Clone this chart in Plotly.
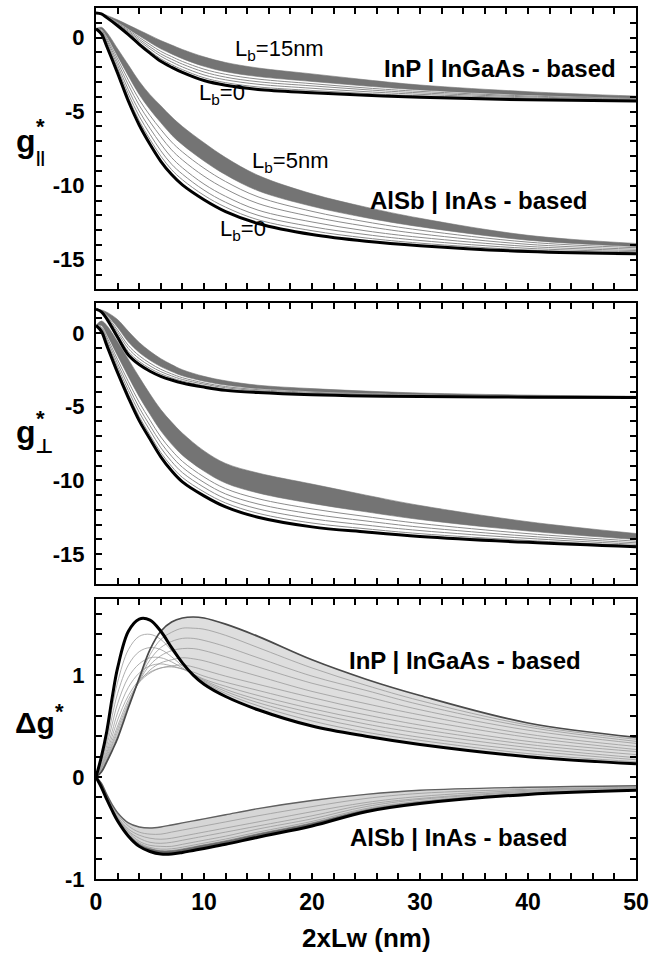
import plotly.graph_objects as go
from plotly.subplots import make_subplots

# ---------------- data ----------------
X12 = [0, 0.5, 1, 2, 3, 4, 5, 6, 7, 8, 10, 12, 15, 20, 25, 30, 40, 50]
X3 = [0, 0.5, 1, 1.5, 2, 3, 4, 5, 6, 7, 8, 9, 10, 12, 15, 20, 25, 30, 40, 50]

x_tickvals = [0, 2, 4, 6, 8, 10, 12, 14, 16, 18, 20, 22, 24, 26, 28, 30, 32, 34, 36, 38, 40, 42, 44, 46, 48, 50]
x_ticktext = ["0", "", "", "", "", "10", "", "", "", "", "20", "", "", "", "", "30", "", "", "", "", "40", "", "", "", "", "50"]
g_tickvals = [-17, -16, -15, -14, -13, -12, -11, -10, -9, -8, -7, -6, -5, -4, -3, -2, -1, 0, 1, 2]
g_ticktext = ["", "", "-15", "", "", "", "", "-10", "", "", "", "", "-5", "", "", "", "", "0", "", ""]
d_tickvals = [-1, -0.8, -0.6, -0.4, -0.2, 0, 0.2, 0.4, 0.6, 0.8, 1, 1.2, 1.4, 1.6]
d_ticktext = ["-1", "", "", "", "", "0", "", "", "", "", "1", "", "", ""]

# Panel 1: g_parallel
p1_inp_lb0 = [1.67, 1.6, 1.35, 0.8, 0.2, -0.45, -1.05, -1.6, -2.0, -2.35, -2.9, -3.22, -3.5, -3.72, -3.9, -4.03, -4.2, -4.28]
p1_inp_lb15 = [1.67, 1.62, 1.5, 1.2, 0.85, 0.5, 0.15, -0.2, -0.5, -0.8, -1.3, -1.68, -2.05, -2.45, -2.85, -3.2, -3.65, -3.95]
p1_inp_band = [1.67, 1.61, 1.44, 1.04, 0.59, 0.12, -0.33, -0.76, -1.1, -1.42, -1.94, -2.3, -2.63, -2.96, -3.27, -3.53, -3.87, -4.08]
p1_inp_mid = [
    [1.67, 1.61, 1.42, 0.99, 0.51, 0.01, -0.47, -0.93, -1.28, -1.61, -2.13, -2.48, -2.8, -3.11, -3.4, -3.63, -3.94, -4.12],
    [1.67, 1.61, 1.4, 0.94, 0.43, -0.11, -0.62, -1.1, -1.46, -1.79, -2.32, -2.67, -2.98, -3.26, -3.52, -3.73, -4.0, -4.16],
    [1.67, 1.6, 1.39, 0.9, 0.36, -0.22, -0.76, -1.26, -1.64, -1.98, -2.52, -2.85, -3.15, -3.42, -3.65, -3.83, -4.07, -4.2],
    [1.67, 1.6, 1.37, 0.85, 0.28, -0.34, -0.91, -1.43, -1.82, -2.16, -2.71, -3.04, -3.33, -3.57, -3.77, -3.93, -4.13, -4.24],
]
p1_alsb_lb0 = [0.6, 0.25, -0.6, -2.4, -4.3, -5.9, -7.2, -8.35, -9.25, -9.95, -10.95, -11.75, -12.55, -13.3, -13.75, -14.05, -14.45, -14.6]
p1_alsb_lb5 = [0.6, 0.7, 0.35, -0.75, -1.85, -2.95, -3.85, -4.6, -5.35, -6.0, -7.1, -8.1, -9.3, -10.55, -11.45, -12.2, -13.35, -13.9]
p1_alsb_band = [0.6, 0.57, 0.07, -1.25, -2.59, -3.84, -4.86, -5.74, -6.57, -7.23, -8.33, -9.26, -10.34, -11.39, -12.16, -12.77, -13.68, -14.11]
p1_alsb_mid = [
    [0.6, 0.51, -0.05, -1.44, -2.88, -4.19, -5.26, -6.2, -7.05, -7.72, -8.82, -9.72, -10.75, -11.73, -12.44, -13.0, -13.81, -14.19],
    [0.6, 0.45, -0.17, -1.66, -3.2, -4.57, -5.69, -6.69, -7.58, -8.26, -9.36, -10.22, -11.2, -12.09, -12.74, -13.25, -13.96, -14.29],
    [0.6, 0.39, -0.3, -1.87, -3.52, -4.96, -6.13, -7.18, -8.1, -8.79, -9.89, -10.72, -11.65, -12.45, -13.05, -13.49, -14.1, -14.38],
    [0.6, 0.34, -0.41, -2.07, -3.81, -5.31, -6.53, -7.64, -8.55, -9.22, -10.3, -11.12, -12.0, -12.77, -13.3, -13.7, -14.23, -14.46],
    [0.6, 0.3, -0.51, -2.24, -4.06, -5.61, -6.87, -8.0, -8.92, -9.6, -10.65, -11.45, -12.3, -13.04, -13.53, -13.88, -14.34, -14.53],
]

# Panel 2: g_perp
p2_inp_lb0 = [1.6, 1.42, 0.95, -0.3, -1.5, -2.15, -2.6, -2.95, -3.2, -3.4, -3.68, -3.9, -4.05, -4.2, -4.28, -4.32, -4.36, -4.38]
p2_inp_lb15 = [1.6, 1.55, 1.4, 0.9, 0.1, -0.65, -1.25, -1.75, -2.15, -2.5, -2.95, -3.25, -3.55, -3.78, -3.95, -4.08, -4.22, -4.3]
p2_inp_band = [1.6, 1.49, 1.2, 0.36, -0.62, -1.33, -1.86, -2.29, -2.62, -2.91, -3.28, -3.54, -3.78, -3.97, -4.1, -4.19, -4.28, -4.34]
p2_inp_mid = [
    [1.6, 1.47, 1.13, 0.18, -0.86, -1.55, -2.06, -2.47, -2.78, -3.04, -3.39, -3.64, -3.85, -4.03, -4.15, -4.22, -4.3, -4.35],
    [1.6, 1.46, 1.07, 0.02, -1.07, -1.75, -2.24, -2.63, -2.92, -3.16, -3.48, -3.72, -3.92, -4.09, -4.19, -4.26, -4.32, -4.36],
    [1.6, 1.44, 1.01, -0.13, -1.28, -1.94, -2.41, -2.78, -3.05, -3.27, -3.58, -3.81, -3.98, -4.14, -4.23, -4.29, -4.34, -4.37],
]
p2_alsb_lb0 = [0.5, 0.1, -0.85, -2.7, -4.4, -5.95, -7.2, -8.4, -9.35, -10.1, -11.05, -11.8, -12.5, -13.15, -13.5, -13.8, -14.2, -14.5]
p2_alsb_lb5 = [0.5, 0.8, 0.5, -0.6, -1.8, -3.0, -4.15, -5.2, -6.05, -6.8, -8.0, -8.85, -9.5, -10.25, -11.0, -11.7, -12.8, -13.6]
p2_alsb_band = [0.5, 0.49, -0.11, -1.55, -2.97, -4.33, -5.52, -6.64, -7.54, -8.29, -9.37, -10.18, -10.85, -11.56, -12.13, -12.65, -13.43, -14.01]
p2_alsb_mid = [
    [0.5, 0.39, -0.28, -1.82, -3.31, -4.71, -5.92, -7.06, -7.96, -8.71, -9.77, -10.56, -11.24, -11.93, -12.45, -12.92, -13.61, -14.12],
    [0.5, 0.31, -0.45, -2.07, -3.62, -5.07, -6.29, -7.44, -8.36, -9.11, -10.14, -10.92, -11.6, -12.28, -12.75, -13.17, -13.78, -14.23],
    [0.5, 0.23, -0.59, -2.3, -3.91, -5.39, -6.62, -7.79, -8.72, -9.47, -10.47, -11.24, -11.93, -12.6, -13.03, -13.4, -13.93, -14.33],
    [0.5, 0.16, -0.73, -2.51, -4.17, -5.68, -6.93, -8.11, -9.05, -9.8, -10.78, -11.53, -12.23, -12.89, -13.28, -13.61, -14.07, -14.42],
]

# Panel 3: delta g
p3_inp_lb0 = [0, 0.2, 0.45, 0.78, 1.07, 1.43, 1.55, 1.54, 1.43, 1.27, 1.12, 1.0, 0.91, 0.79, 0.66, 0.5, 0.4, 0.32, 0.2, 0.13]
p3_inp_lb15 = [0, 0.05, 0.15, 0.26, 0.38, 0.68, 0.97, 1.25, 1.43, 1.52, 1.56, 1.57, 1.56, 1.5, 1.38, 1.15, 0.96, 0.8, 0.53, 0.39]
p3_inp_mid = [
    [0, 0.17, 0.4, 0.68, 0.93, 1.25, 1.38, 1.4, 1.35, 1.24, 1.12, 1.01, 0.93, 0.82, 0.7, 0.55, 0.44, 0.36, 0.23, 0.15],
    [0, 0.15, 0.35, 0.6, 0.82, 1.1, 1.23, 1.27, 1.25, 1.18, 1.09, 1.01, 0.94, 0.84, 0.73, 0.59, 0.48, 0.39, 0.26, 0.17],
    [0, 0.13, 0.31, 0.52, 0.72, 0.98, 1.11, 1.17, 1.17, 1.13, 1.07, 1.01, 0.95, 0.86, 0.76, 0.63, 0.52, 0.43, 0.29, 0.19],
    [0, 0.11, 0.27, 0.45, 0.63, 0.88, 1.02, 1.09, 1.11, 1.09, 1.06, 1.01, 0.96, 0.89, 0.8, 0.67, 0.56, 0.47, 0.32, 0.22],
    [0, 0.1, 0.24, 0.4, 0.56, 0.8, 0.95, 1.03, 1.07, 1.08, 1.06, 1.03, 0.99, 0.93, 0.85, 0.72, 0.61, 0.51, 0.35, 0.25],
    [0, 0.09, 0.22, 0.36, 0.5, 0.76, 0.93, 1.02, 1.07, 1.09, 1.1, 1.08, 1.05, 0.99, 0.91, 0.78, 0.66, 0.56, 0.39, 0.27],
    [0, 0.08, 0.2, 0.33, 0.47, 0.73, 0.93, 1.05, 1.12, 1.15, 1.17, 1.16, 1.14, 1.08, 0.99, 0.84, 0.72, 0.61, 0.42, 0.3],
    [0, 0.07, 0.18, 0.31, 0.44, 0.71, 0.94, 1.1, 1.19, 1.24, 1.26, 1.26, 1.24, 1.18, 1.08, 0.92, 0.79, 0.66, 0.46, 0.33],
    [0, 0.06, 0.17, 0.29, 0.41, 0.7, 0.95, 1.15, 1.27, 1.33, 1.36, 1.36, 1.34, 1.28, 1.17, 0.99, 0.85, 0.71, 0.49, 0.35],
    [0, 0.06, 0.16, 0.27, 0.39, 0.69, 0.96, 1.2, 1.35, 1.42, 1.46, 1.46, 1.45, 1.39, 1.27, 1.07, 0.9, 0.75, 0.51, 0.37],
]
p3_alsb_lb0 = [0, -0.1, -0.22, -0.33, -0.43, -0.58, -0.68, -0.73, -0.755, -0.755, -0.74, -0.72, -0.7, -0.66, -0.59, -0.48, -0.34, -0.26, -0.17, -0.13]
p3_alsb_lb5 = [0, -0.06, -0.17, -0.27, -0.35, -0.45, -0.49, -0.5, -0.49, -0.47, -0.45, -0.43, -0.41, -0.37, -0.31, -0.23, -0.17, -0.13, -0.1, -0.085]
p3_alsb_band = [0, -0.095, -0.214, -0.323, -0.42, -0.564, -0.657, -0.702, -0.723, -0.721, -0.705, -0.685, -0.665, -0.625, -0.556, -0.45, -0.32, -0.244, -0.162, -0.125]
p3_alsb_mid = [
    [0, -0.07, -0.18, -0.285, -0.37, -0.48, -0.54, -0.56, -0.56, -0.54, -0.52, -0.5, -0.48, -0.44, -0.38, -0.29, -0.21, -0.16, -0.12, -0.1],
    [0, -0.08, -0.19, -0.3, -0.39, -0.51, -0.57, -0.6, -0.61, -0.6, -0.58, -0.56, -0.54, -0.5, -0.44, -0.34, -0.25, -0.19, -0.13, -0.105],
    [0, -0.085, -0.2, -0.31, -0.4, -0.53, -0.6, -0.64, -0.65, -0.64, -0.62, -0.6, -0.58, -0.54, -0.48, -0.38, -0.27, -0.21, -0.14, -0.11],
    [0, -0.09, -0.205, -0.31, -0.41, -0.54, -0.63, -0.67, -0.68, -0.68, -0.66, -0.64, -0.62, -0.58, -0.51, -0.41, -0.29, -0.22, -0.15, -0.12],
    [0, -0.093, -0.21, -0.32, -0.415, -0.557, -0.646, -0.69, -0.707, -0.704, -0.688, -0.668, -0.648, -0.608, -0.54, -0.435, -0.309, -0.237, -0.157, -0.122],
]
p3_inp_fill_start = 6  # x from which the InP bundle is shaded

# ---------------- figure ----------------
fig = make_subplots(rows=3, cols=1)

SM = 1.0


def line(row, x, y, color, width):
    fig.add_trace(go.Scatter(x=x, y=y, mode="lines", line=dict(color=color, width=width, shape="spline", smoothing=SM),
                             hoverinfo="skip", showlegend=False), row=row, col=1)


def band(row, x, upper, lower, color):
    fig.add_trace(go.Scatter(x=x, y=lower, mode="lines", line=dict(color=color, width=0.6, shape="spline", smoothing=SM),
                             hoverinfo="skip", showlegend=False), row=row, col=1)
    fig.add_trace(go.Scatter(x=x, y=upper, mode="lines", line=dict(color=color, width=0.6, shape="spline", smoothing=SM),
                             fill="tonexty", fillcolor=color, hoverinfo="skip", showlegend=False), row=row, col=1)


BAND = "#747474"
THIN = "#8c8c8c"

# panel 1
band(1, X12, p1_inp_lb15, p1_inp_band, BAND)
for c in p1_inp_mid:
    line(1, X12, c, THIN, 1)
band(1, X12, p1_alsb_lb5, p1_alsb_band, BAND)
for c in p1_alsb_mid:
    line(1, X12, c, THIN, 1)
line(1, X12, p1_inp_lb0, "black", 3)
line(1, X12, p1_alsb_lb0, "black", 3)

# panel 2
band(2, X12, p2_inp_lb15, p2_inp_band, BAND)
for c in p2_inp_mid:
    line(2, X12, c, THIN, 1)
band(2, X12, p2_alsb_lb5, p2_alsb_band, BAND)
for c in p2_alsb_mid:
    line(2, X12, c, THIN, 1)
line(2, X12, p2_inp_lb0, "black", 3)
line(2, X12, p2_alsb_lb0, "black", 3)

# panel 3
i0 = X3.index(p3_inp_fill_start)
band(3, X3[i0:], p3_inp_lb15[i0:], p3_inp_lb0[i0:], "#dedede")
band(3, X3, p3_alsb_lb5, p3_alsb_lb0, "#d6d6d6")
for c in p3_inp_mid:
    line(3, X3, c, "#9a9a9a", 0.8)
for c in p3_alsb_mid:
    line(3, X3, c, "#9a9a9a", 0.8)
band(3, X3, p3_alsb_band, p3_alsb_lb0, "#6a6a6a")
line(3, X3, p3_inp_lb15, "#4a4a4a", 1.7)
line(3, X3, p3_alsb_lb5, "#606060", 1.4)
line(3, X3, p3_inp_lb0, "black", 3)
line(3, X3, p3_alsb_lb0, "black", 3)

# ---------------- axes ----------------
L, R, T, B = 96, 26, 6, 79
W, H = 662, 958
PH = H - T - B


def ypaper(px):
    return (H - B - px) / PH


def xpaper(px):
    return (px - L) / (W - L - R)


domains = [[ypaper(288), ypaper(6)], [ypaper(583), ypaper(302)], [ypaper(879), ypaper(598)]]
yranges = [[-17, 2], [-17, 2], [-1, 1.75]]
ytv = [g_tickvals, g_tickvals, d_tickvals]
ytt = [g_ticktext, g_ticktext, d_ticktext]

axcommon = dict(showline=True, mirror="allticks", linecolor="black", linewidth=2, ticks="inside",
                ticklen=6, tickwidth=1.5, tickcolor="black", showgrid=False, zeroline=False)
for i in range(3):
    xa = "xaxis" if i == 0 else f"xaxis{i+1}"
    ya = "yaxis" if i == 0 else f"yaxis{i+1}"
    fig.layout[xa].update(range=[0, 50], tickmode="array", tickvals=x_tickvals, ticktext=x_ticktext,
                          domain=[0, 1], showticklabels=(i == 2),
                          tickfont=dict(family="Liberation Sans, Arial", size=23, color="black", weight="bold"),
                          ticklabelstandoff=1, **axcommon)
    fig.layout[ya].update(range=yranges[i], tickmode="array", tickvals=ytv[i], ticktext=ytt[i], domain=domains[i],
                          tickfont=dict(family="Liberation Sans, Arial", size=22, color="black", weight="bold"),
                          ticklabelstandoff=5, **axcommon)

# ---------------- text ----------------
ann = []
BF = "Liberation Sans, Arial"


def txt(text, x, y, size, bold=True, xref="paper", yref="paper", xanchor="center", family=BF):
    ann.append(dict(text=text, x=x, y=y, xref=xref, yref=yref, xanchor=xanchor, yanchor="middle", showarrow=False,
                    font=dict(family=family, size=size, color="black", weight="bold" if bold else "normal")))


# axis titles
txt("g", xpaper(25.5), ypaper(139), 32)
txt("*", xpaper(40), ypaper(125), 22)
txt("||", xpaper(40.5), ypaper(156), 16)
txt("g", xpaper(25.5), ypaper(431), 32)
txt("*", xpaper(40), ypaper(417), 22)
txt("⊥", xpaper(44), ypaper(445), 20, family="DejaVu Sans")
txt("Δg", xpaper(35), ypaper(722), 30)
txt("*", xpaper(59), ypaper(711), 22)
txt("2xLw (nm)", 0.5, ypaper(938), 26)

# in-panel labels
txt("L<sub>b</sub>=15nm", 12.7, -0.83, 22, bold=False, xref="x", yref="y", xanchor="left")
txt("L<sub>b</sub>=0", 9.35, -3.8, 22, bold=False, xref="x", yref="y", xanchor="left")
txt("L<sub>b</sub>=5nm", 14.26, -8.38, 22, bold=False, xref="x", yref="y", xanchor="left")
txt("L<sub>b</sub>=0", 11.3, -12.96, 22, bold=False, xref="x", yref="y", xanchor="left")
txt("InP | InGaAs - based", 37.4, -2.11, 24, xref="x", yref="y")
txt("AlSb | InAs - based", 35.4, -11.0, 24, xref="x", yref="y")
txt("InP | InGaAs - based", 34.2, 1.14, 24, xref="x3", yref="y3")
txt("AlSb | InAs - based", 33.6, -0.59, 24, xref="x3", yref="y3")

fig.update_layout(width=W, height=H, margin=dict(l=L, r=R, t=T, b=B), plot_bgcolor="white", paper_bgcolor="white",
                  annotations=ann, showlegend=False)

fig.write_html("out.html", config=dict(displayModeBar=False),
               post_script="document.body.style.margin='0px';")
